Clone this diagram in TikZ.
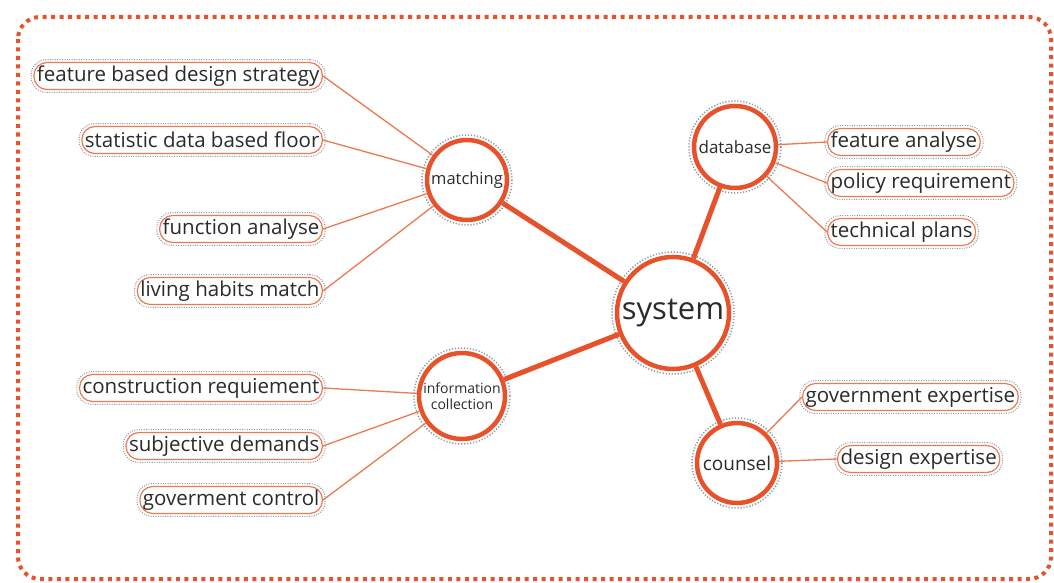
\documentclass[tikz,border=0pt]{standalone}
\usepackage{fontspec}
\setmainfont{Open Sans}
\usetikzlibrary{fit}
\definecolor{org}{HTML}{E8522A}
\definecolor{lorg}{HTML}{EC7A4E}
\definecolor{txt}{HTML}{2B2B2B}
\definecolor{dotg}{HTML}{8E98A8}
\begin{document}
\begin{tikzpicture}[x=1pt,y=-1pt,
  hub/.style={circle, draw=org, line width=4.5pt, fill=white, text=txt, inner sep=0pt, align=center},
  leaf/.style={draw=lorg, line width=1.2pt, rounded corners=13pt, fill=white, text=txt,
    minimum height=27pt, inner xsep=3pt, inner ysep=0pt, font=\fontsize{20.5}{24}\selectfont},
  leafring/.style={draw=dotg, dash pattern=on 1pt off 1.4pt, line width=1pt, rounded corners=15pt, inner sep=2.2pt},
  hubring/.style={draw=dotg, dash pattern=on 1.2pt off 1.8pt, line width=1.5pt},
  biglink/.style={draw=org, line width=5pt},
  smalllink/.style={draw=lorg, line width=1.3pt},
]
\useasboundingbox (0,0) rectangle (1054,583);
\fill[white] (0,0) rectangle (1054,583);
\draw[org, line width=4pt, dash pattern=on 4pt off 4.5pt, rounded corners=22pt] (18,17) rectangle (1051,579);

% hubs
\node[hub, minimum size=112pt, font=\fontsize{31}{34}\selectfont] (sys) at (673,313) {system};
\node[hub, minimum size=80pt, font=\fontsize{16.5}{18}\selectfont] (mat) at (467,180) {matching};
\node[hub, minimum size=82pt, font=\fontsize{17}{18}\selectfont] (db) at (735,147) {database};
\node[hub, minimum size=86pt, font=\fontsize{14}{16}\selectfont] (inf) at (462,396) {information\\collection};
\node[hub, minimum size=80pt, font=\fontsize{19}{20}\selectfont] (cou) at (737,463) {counsel};

\foreach \n/\r in {sys/61, mat/45, db/46, inf/48, cou/45}
  \draw[hubring] (\n.center) circle (\r);

% leaves left
\node[leaf, anchor=east] (l1) at (323,76) {feature based design strategy};
\node[leaf, anchor=east] (l2) at (323,140) {statistic data based floor};
\node[leaf, anchor=east] (l3) at (323,229) {function analyse};
\node[leaf, anchor=east] (l4) at (323,291) {living habits match};
\node[leaf, anchor=east] (l5) at (323,388) {construction requiement};
\node[leaf, anchor=east] (l6) at (323,446) {subjective demands};
\node[leaf, anchor=east] (l7) at (323,500) {goverment control};
% leaves right
\node[leaf, anchor=west] (r1) at (827,142) {feature analyse};
\node[leaf, anchor=west] (r2) at (827,183) {policy requirement};
\node[leaf, anchor=west] (r3) at (827,232) {technical plans};
\node[leaf, anchor=west] (r4) at (802,397) {government expertise};
\node[leaf, anchor=west] (r5) at (837,459) {design expertise};

\foreach \n in {l1,l2,l3,l4,l5,l6,l7,r1,r2,r3,r4,r5}
  \node[leafring, fit=(\n)] {};

% thick links
\draw[biglink] (mat) -- (sys);
\draw[biglink] (inf) -- (sys);
\draw[biglink] (db) -- (sys);
\draw[biglink] (cou) -- (sys);

% thin links
\foreach \l in {l1,l2,l3,l4} \draw[smalllink] (\l.east) -- (mat);
\foreach \l in {l5,l6,l7} \draw[smalllink] (\l.east) -- (inf);
\foreach \l in {r1,r2,r3} \draw[smalllink] (\l.west) -- (db);
\foreach \l in {r4,r5} \draw[smalllink] (\l.west) -- (cou);
\end{tikzpicture}
\end{document}
